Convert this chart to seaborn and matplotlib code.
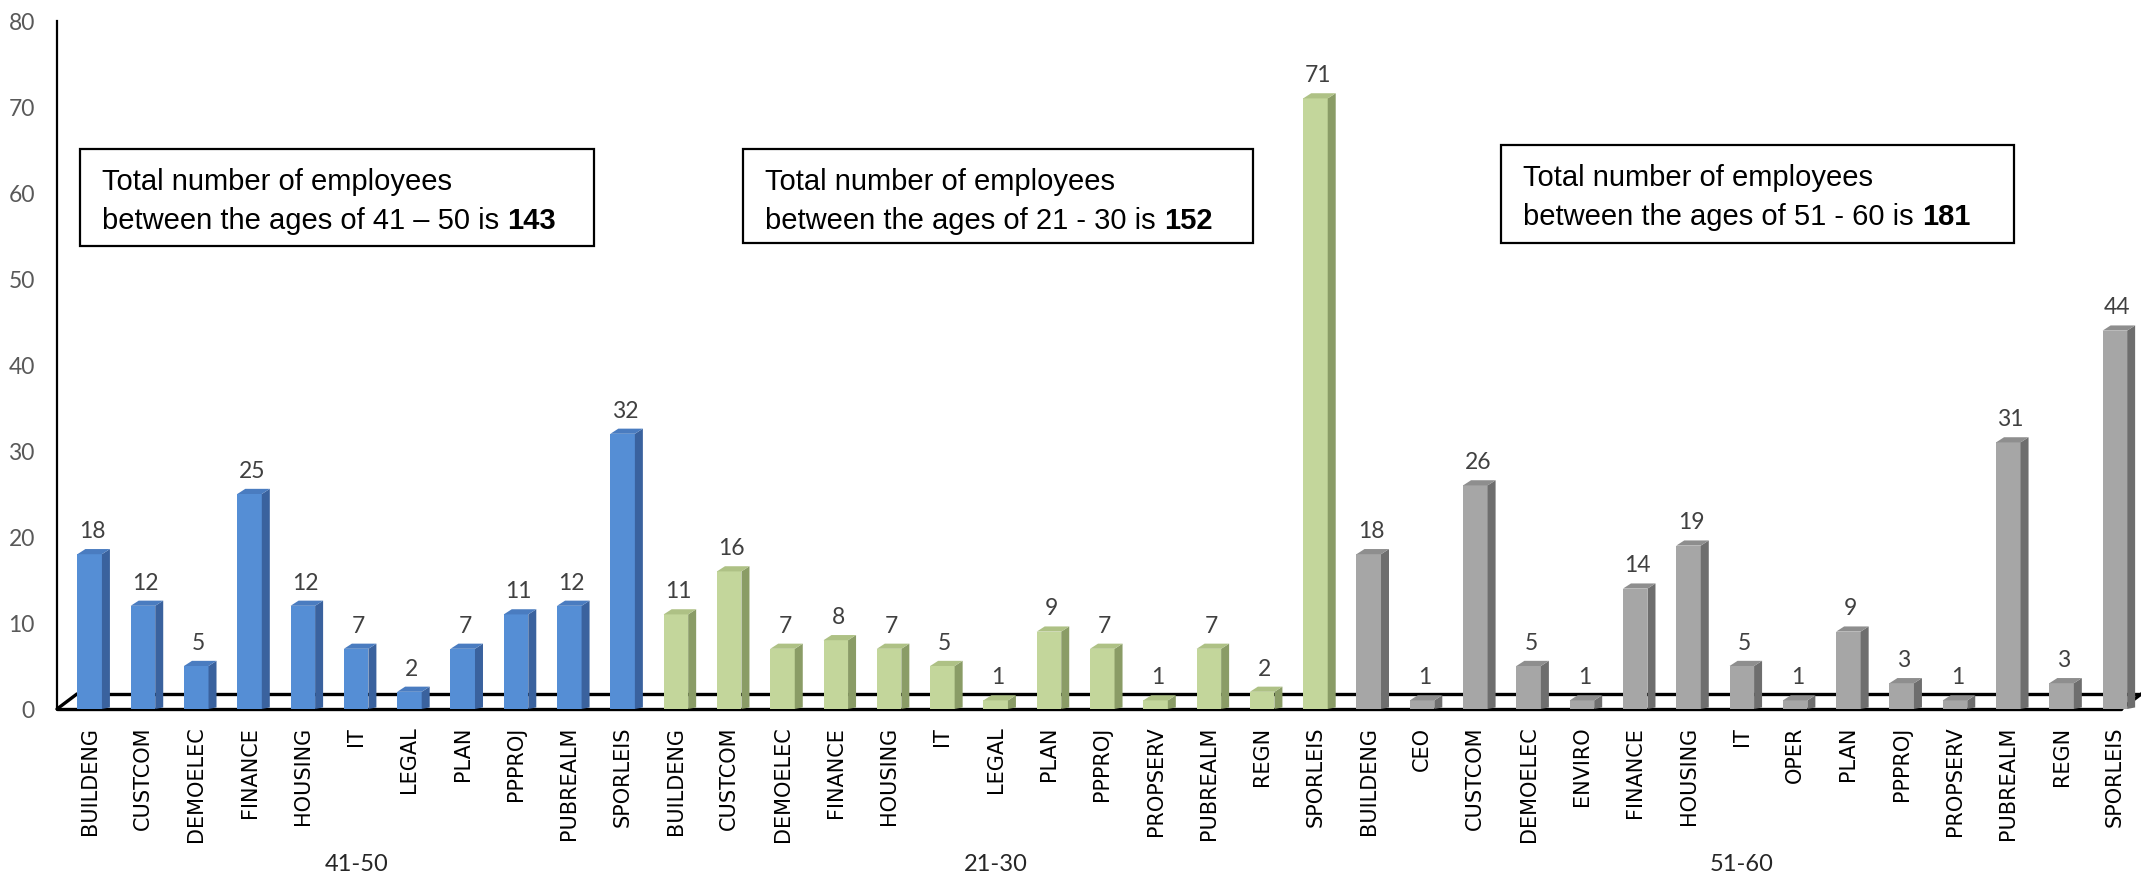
import numpy as np
import pandas as pd
import matplotlib
matplotlib.use("Agg")
import matplotlib.pyplot as plt
import seaborn as sns
from matplotlib.patches import Polygon, Rectangle

# ---------------- data ----------------
groups = ["41-50", "21-30", "51-60"]

depts_41_50 = ["BUILDENG", "CUSTCOM", "DEMOELEC", "FINANCE", "HOUSING", "IT",
               "LEGAL", "PLAN", "PPPROJ", "PUBREALM", "SPORLEIS"]
counts_41_50 = [18, 12, 5, 25, 12, 7, 2, 7, 11, 12, 32]

depts_21_30 = ["BUILDENG", "CUSTCOM", "DEMOELEC", "FINANCE", "HOUSING", "IT",
               "LEGAL", "PLAN", "PPPROJ", "PROPSERV", "PUBREALM", "REGN", "SPORLEIS"]
counts_21_30 = [11, 16, 7, 8, 7, 5, 1, 9, 7, 1, 7, 2, 71]

depts_51_60 = ["BUILDENG", "CEO", "CUSTCOM", "DEMOELEC", "ENVIRO", "FINANCE",
               "HOUSING", "IT", "OPER", "PLAN", "PPPROJ", "PROPSERV", "PUBREALM",
               "REGN", "SPORLEIS"]
counts_51_60 = [18, 1, 26, 5, 1, 14, 19, 5, 1, 9, 3, 1, 31, 3, 44]

box_line1 = "Total number of employees"
box_line2 = ["between the ages of 41 \u2013 50 is",
             "between the ages of 21 - 30 is",
             "between the ages of 51 - 60 is"]
box_totals = ["143", "152", "181"]

y_ticks = [0, 10, 20, 30, 40, 50, 60, 70, 80]

# ---------------- styling ----------------
front_col = {"41-50": "#558ED5", "21-30": "#C3D69B", "51-60": "#A6A6A6"}
top_col = {"41-50": "#4A7CC0", "21-30": "#AEC185", "51-60": "#8E8E8E"}
side_col = {"41-50": "#3A629E", "21-30": "#8A9C66", "51-60": "#6E6E6E"}

sns.set_style("white")
plt.rcParams["font.family"] = ["DejaVu Sans"]

W, H = 2141, 878
fig = plt.figure(figsize=(W / 100, H / 100), dpi=100)
ax = fig.add_axes([57 / W, (H - 710) / H, (W - 57) / W, (710 - 22) / H])

all_depts = depts_41_50 + depts_21_30 + depts_51_60
all_counts = counts_41_50 + counts_21_30 + counts_51_60
all_groups = (["41-50"] * len(depts_41_50) + ["21-30"] * len(depts_21_30)
              + ["51-60"] * len(depts_51_60))
n = len(all_depts)
df = pd.DataFrame({"pos": np.arange(n), "dept": all_depts,
                   "count": all_counts, "group": all_groups})

BAR_W = 0.46
sns.barplot(data=df, x="pos", y="count", hue="group", palette=front_col,
            dodge=False, width=BAR_W, saturation=1, legend=False,
            linewidth=0, ax=ax, zorder=2)

XL, XR = -0.613, 38.49
ax.set_xlim(XL, XR)
ax.set_ylim(0, 80)

# 3D floor
dxf, dyf = 0.375, 1.75
xfr = 38.12
floor_kw = dict(color="black", lw=2.4, zorder=1, clip_on=False, solid_capstyle="round")
ax.plot([XL, xfr], [0, 0], **floor_kw)
ax.plot([XL + dxf, xfr + dxf], [dyf, dyf], **floor_kw)
ax.plot([XL, XL + dxf], [0, dyf], **floor_kw)
ax.plot([xfr, xfr + dxf], [0, dyf], **floor_kw)

# 3D faces and value labels
dx, dy = 0.15, 0.6
for p in ax.patches:
    x0, w, h = p.get_x(), p.get_width(), p.get_height()
    if w <= 0 or np.isnan(h):
        continue
    idx = int(round(x0 + w / 2))
    g = all_groups[idx]
    x1 = x0 + w
    side = Polygon([(x1, 0), (x1 + dx, dy * 0.3), (x1 + dx, h + dy), (x1, h)],
                   closed=True, facecolor=side_col[g], edgecolor="none", zorder=2.5)
    top = Polygon([(x0, h), (x0 + dx, h + dy), (x1 + dx, h + dy), (x1, h)],
                  closed=True, facecolor=top_col[g], edgecolor="none", zorder=2.5)
    ax.add_patch(side)
    ax.add_patch(top)
    ax.text(x0 + w / 2 + dx * 0.3, h + dy + 1.4, str(all_counts[idx]),
            ha="center", va="baseline", fontsize=16.5, family="Lato",
            color="#404040", zorder=3)

# axes styling
for s in ["top", "right", "bottom"]:
    ax.spines[s].set_visible(False)
ax.spines["left"].set_color("black")
ax.spines["left"].set_linewidth(1.6)
ax.set_xlabel("")
ax.set_ylabel("")
ax.set_xticks(range(n))
ax.set_xticklabels(all_depts, rotation=90, fontsize=15, color="black",
                   family="DejaVu Sans")
ax.tick_params(axis="x", length=0, pad=12)
ax.set_yticks(y_ticks)
ax.set_yticklabels([str(v) for v in y_ticks], fontsize=16.5, family="Lato",
                   color="#595959")
ax.tick_params(axis="y", length=0, pad=16)
ax.grid(False)

# group labels
start = 0
for g, d in zip(groups, [depts_41_50, depts_21_30, depts_51_60]):
    center = start + (len(d) - 1) / 2
    ax.text(center, -0.225, g, transform=ax.get_xaxis_transform(),
            ha="center", va="center", fontsize=17, family="Lato",
            color="#262626")
    start += len(d)

# annotation boxes (pixel coordinates of the figure, from top)
boxes = [(80, 150, 594, 247), (743, 150, 1253, 244), (1501, 146, 2014, 244)]
fsize = 21
renderer = fig.canvas.get_renderer()
for (bx0, by0, bx1, by1), l2, tot in zip(boxes, box_line2, box_totals):
    fig.patches.append(Rectangle((bx0 / W, (H - by1) / H), (bx1 - bx0) / W,
                                 (by1 - by0) / H, transform=fig.transFigure,
                                 facecolor="white", edgecolor="black",
                                 linewidth=1.6, zorder=5))
    tx = bx0 + 22
    fig.text(tx / W, (H - (by0 + 40)) / H, box_line1, fontsize=fsize,
             family="Liberation Sans", color="black", va="baseline", zorder=6)
    t2 = fig.text(tx / W, (H - (by0 + 79)) / H, l2, fontsize=fsize,
                  family="Liberation Sans", color="black", va="baseline", zorder=6)
    ext = t2.get_window_extent(renderer=renderer)
    space = 0.278 * fsize * 100 / 72
    fig.text((ext.x1 + space) / W, (H - (by0 + 79)) / H, tot, fontsize=fsize,
             family="Liberation Sans", fontweight="bold", color="black",
             va="baseline", zorder=6)

fig.savefig("out.png", dpi=100, facecolor="white")
